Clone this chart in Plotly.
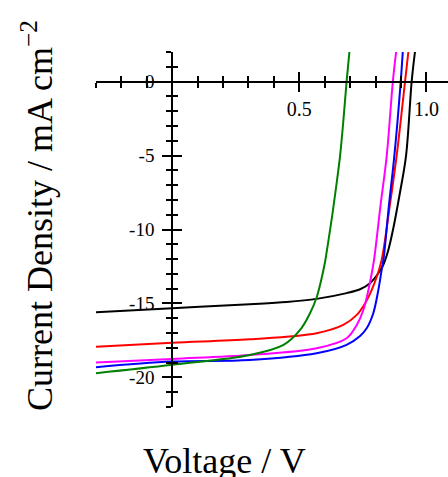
import plotly.graph_objects as go

# ---- data ----
v_black = [-0.3, 0.0, 0.305, 0.45, 0.568, 0.686, 0.739, 0.778, 0.811, 0.83, 0.85, 0.87, 0.895, 0.920, 0.942, 0.955]
j_black = [-15.6, -15.32, -15.05, -14.9, -14.69, -14.3, -14.04, -13.63, -12.96, -12.4, -11.4, -9.9, -7.6, -5.0, 0.0, 2.0]

v_red = [-0.3, 0.0, 0.305, 0.568, 0.673, 0.726, 0.759, 0.785, 0.805, 0.824, 0.855, 0.883, 0.916, 0.929]
j_red = [-17.92, -17.65, -17.42, -17.01, -16.45, -15.77, -14.98, -14.08, -13.18, -12.06, -8.5, -5.0, 0.0, 2.0]

v_magenta = [-0.3, 0.0, 0.305, 0.568, 0.686, 0.726, 0.752, 0.772, 0.785, 0.794, 0.82, 0.844, 0.868, 0.881]
j_magenta = [-19.0, -18.75, -18.48, -18.03, -17.35, -16.45, -15.44, -14.08, -12.96, -12.06, -8.3, -5.0, 0.0, 2.0]

v_blue = [-0.3, 0.0, 0.305, 0.568, 0.686, 0.739, 0.765, 0.791, 0.811, 0.824, 0.831, 0.853, 0.874, 0.899, 0.907]
j_blue = [-19.31, -18.93, -18.82, -18.37, -17.80, -17.2, -16.68, -15.66, -14.08, -12.73, -12.06, -8.3, -5.0, 0.0, 2.0]

v_green = [-0.3, 0.0, 0.305, 0.438, 0.503, 0.542, 0.568, 0.585, 0.600, 0.615, 0.630, 0.645, 0.660, 0.673, 0.686, 0.697]
j_green = [-19.72, -19.15, -18.48, -17.80, -16.79, -15.66, -14.6, -13.5, -12.3, -10.7, -9.0, -7.1, -5.07, -2.7, 0.0, 2.0]

x_tick_vals = [0.5, 1.0]
x_tick_text = ["0.5", "1.0"]
y_tick_vals = [0, -5, -10, -15, -20]
y_tick_text = ["0", "-5", "-10", "-15", "-20"]

x_range = [-0.3, 1.085]
y_range = [-22, 2]

FONT = "Liberation Serif"

series = [
    (v_black, j_black, "black"),
    (v_red, j_red, "#ff0000"),
    (v_magenta, j_magenta, "#ff00ff"),
    (v_blue, j_blue, "#0000ff"),
    (v_green, j_green, "#008000"),
]

fig = go.Figure()
for v, j, c in series:
    fig.add_trace(go.Scatter(x=v, y=j, mode="lines",
                             line=dict(color=c, width=2, shape="spline", smoothing=1.0),
                             showlegend=False, hoverinfo="skip"))
# empty trace to create the overlay axes pair (ticks on the other side)
fig.add_trace(go.Scatter(x=[], y=[], xaxis="x2", yaxis="y2", showlegend=False))

xpos = (0 - y_range[0]) / (y_range[1] - y_range[0])
ypos = (0 - x_range[0]) / (x_range[1] - x_range[0])

common_x = dict(range=x_range, anchor="free", position=xpos, showgrid=False, zeroline=False,
                showline=True, linecolor="black", linewidth=2, automargin=False,
                tickmode="array", tickvals=x_tick_vals, ticklen=9, tickwidth=2, tickcolor="black",
                minor=dict(dtick=0.1, tick0=0, ticklen=5, tickwidth=2, tickcolor="black"))
common_y = dict(range=y_range, anchor="free", position=ypos, showgrid=False, zeroline=False,
                showline=True, linecolor="black", linewidth=2, automargin=False,
                tickmode="array", tickvals=y_tick_vals, ticklen=9, tickwidth=2, tickcolor="black",
                minor=dict(dtick=1, tick0=0, ticklen=5, tickwidth=2, tickcolor="black"))

xa = dict(common_x); xa.update(ticks="outside", ticktext=x_tick_text,
                               tickfont=dict(family=FONT, size=20, color="black"))
xa["minor"] = dict(common_x["minor"], ticks="outside")
xa2 = dict(common_x); xa2.update(ticks="inside", showticklabels=False, overlaying="x")
xa2["minor"] = dict(common_x["minor"], ticks="inside")

ya = dict(common_y); ya.update(ticks="outside", ticktext=y_tick_text, ticklabelstandoff=4,
                               tickfont=dict(family=FONT, size=19, color="black"))
ya["minor"] = dict(common_y["minor"], ticks="outside")
ya2 = dict(common_y); ya2.update(ticks="inside", showticklabels=False, overlaying="y")
ya2["minor"] = dict(common_y["minor"], ticks="inside")

L, R, T, B = 96, 0, 52, 70
W, H = 448, 477
pw = W - L - R
ph = H - T - B

fig.update_layout(
    width=W, height=H,
    margin=dict(l=L, r=R, t=T, b=B, autoexpand=False),
    paper_bgcolor="white", plot_bgcolor="white",
    xaxis=xa, xaxis2=xa2, yaxis=ya, yaxis2=ya2,
    showlegend=False,
    annotations=[
        dict(text="Voltage / V", xref="paper", yref="paper",
             x=(224 - L) / pw, y=(T + ph - 461) / ph, xanchor="center", yanchor="middle",
             showarrow=False, font=dict(family=FONT, size=36, color="black")),
        dict(text="Current Density / mA cm<sup>\u22122</sup>", xref="paper", yref="paper",
             x=(37 - L) / pw, y=(T + ph - 216) / ph, xanchor="center", yanchor="middle",
             textangle=-90, showarrow=False, font=dict(family=FONT, size=36, color="black")),
    ],
)

fig.write_html("out.html", config={"displayModeBar": False},
               post_script="document.body.style.margin='0';document.body.style.overflow='hidden';")
